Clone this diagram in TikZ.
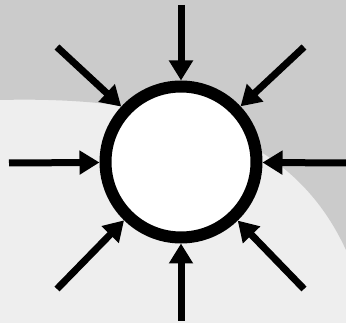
\documentclass[tikz,border=0pt]{standalone}
\usetikzlibrary{arrows.meta}
\definecolor{wmdark}{HTML}{CBCBCB}
\definecolor{wmlight}{HTML}{EEEEEE}
\tikzset{
  inarrow/.style={line width=7pt, -{Triangle[width=23pt,length=20pt]}},
  ring/.style={circle, draw=black, fill=white, line width=12pt, minimum size=151pt, inner sep=0pt}
}
\begin{document}
\begin{tikzpicture}[x=1pt,y=-1pt]
  \fill[wmlight] (0,0) rectangle (346,323);
  \fill[wmdark] (0,0) -- (346,0) -- (346,250) .. controls (300,150) and (200,95) .. (0,100) -- cycle;
  \useasboundingbox (0,0) rectangle (346,323);
  \node[ring] (c) at (181,162) {};
  \coordinate (n) at (181,5);
  \coordinate (s) at (181,321);
  \coordinate (w) at (9,163);
  \coordinate (e) at (346,163);
  \coordinate (nw) at (57,47);
  \coordinate (ne) at (304,47);
  \coordinate (sw) at (57,289);
  \coordinate (se) at (304,289);
  \foreach \p in {n,s,w,e,nw,ne,sw,se}
    \draw[inarrow] (\p) -- (c);
\end{tikzpicture}
\end{document}
